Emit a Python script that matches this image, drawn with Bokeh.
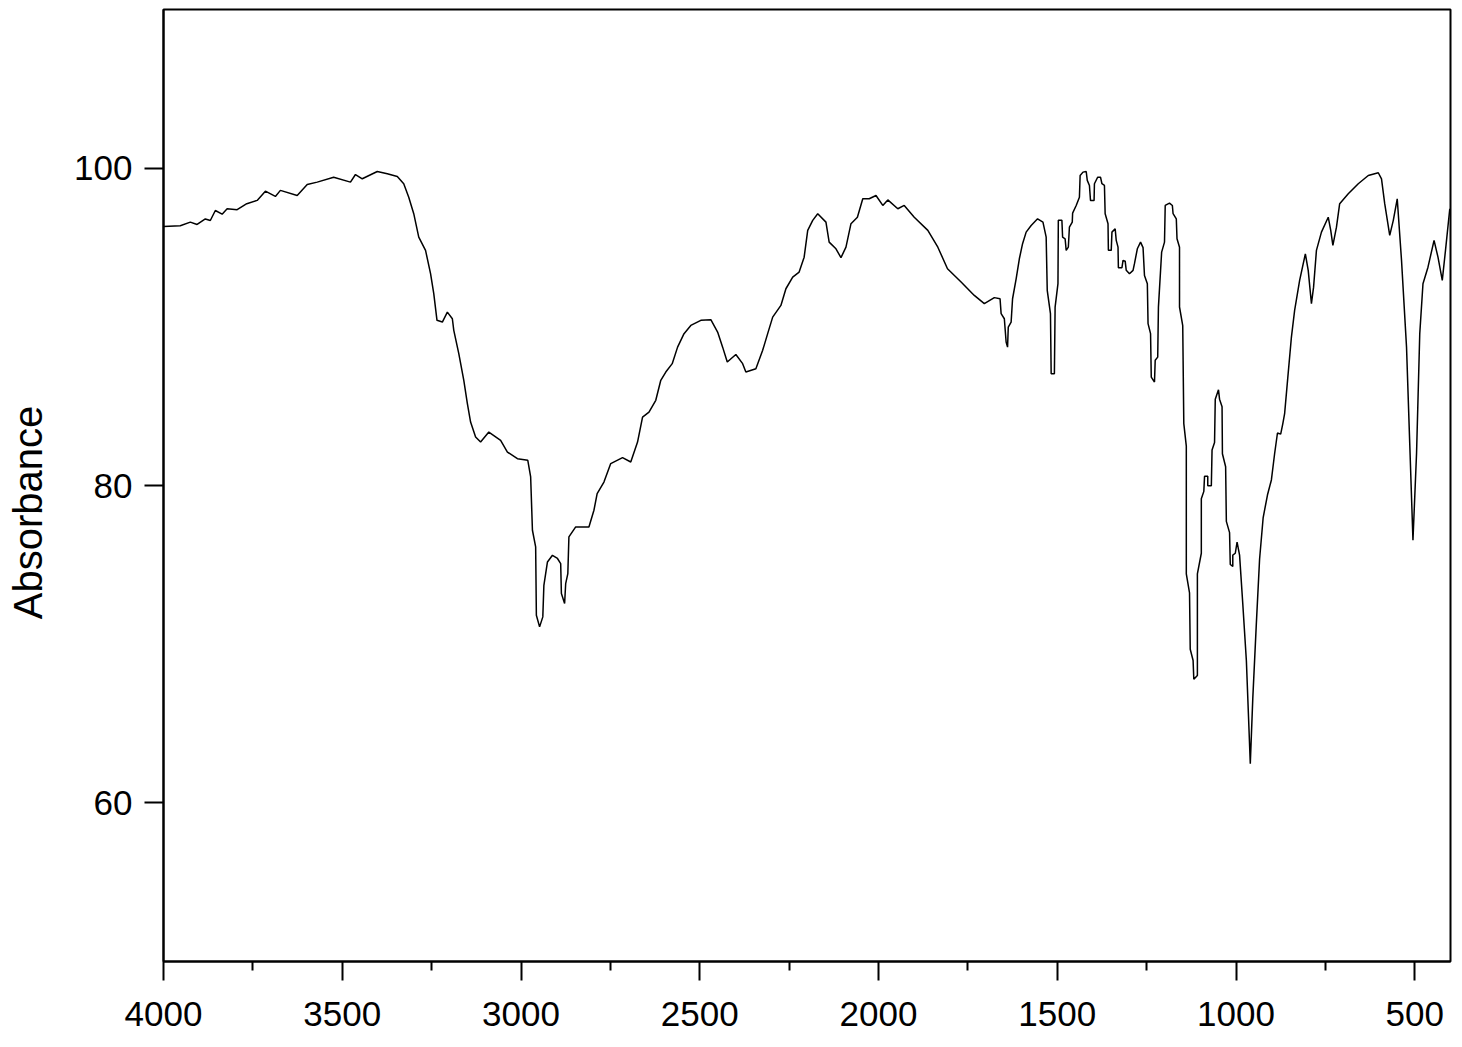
from bokeh.plotting import figure
from bokeh.models import FixedTicker, Range1d, Label
from bokeh.embed import file_html
from bokeh.resources import INLINE
import math

# Wavenumber (cm^-1)
wavenumber = [
    4000, 3953, 3925, 3906, 3883, 3869, 3855, 3836, 3822, 3794, 3767, 3738, 3715, 3687, 3673,
    3626, 3598, 3570, 3524, 3477, 3463, 3444, 3402, 3374, 3346, 3328, 3314, 3300, 3286, 3267,
    3253, 3244, 3235, 3220, 3206, 3192, 3188, 3174, 3160, 3150, 3141, 3127, 3113, 3090, 3057,
    3038, 3010, 2981, 2973, 2968, 2959, 2957, 2948, 2939, 2936, 2926, 2912, 2898, 2889, 2887,
    2878, 2875, 2869, 2866, 2847, 2810, 2796, 2787, 2768, 2749, 2716, 2693, 2674, 2660, 2642,
    2623, 2609, 2595, 2577, 2562, 2544, 2525, 2497, 2469, 2450, 2436, 2423, 2399, 2380, 2371,
    2343, 2324, 2310, 2296, 2273, 2259, 2240, 2222, 2208, 2198, 2184, 2170, 2147, 2138, 2119,
    2105, 2091, 2077, 2059, 2044, 2026, 2007, 1988, 1974, 1946, 1928, 1900, 1862, 1834, 1807,
    1769, 1732, 1704, 1676, 1660, 1657, 1648, 1643, 1639, 1637, 1629, 1625, 1615, 1606, 1597,
    1587, 1573, 1555, 1540, 1531, 1528, 1519, 1517, 1508, 1506, 1498, 1497, 1487, 1485, 1478,
    1475, 1469, 1466, 1458, 1457, 1447, 1438, 1436, 1428, 1419, 1416, 1410, 1407, 1397, 1396,
    1387, 1379, 1375, 1368, 1366, 1358, 1357, 1349, 1347, 1338, 1335, 1330, 1329, 1319, 1316,
    1310, 1307, 1298, 1288, 1284, 1276, 1267, 1260, 1256, 1248, 1246, 1239, 1237, 1228, 1226,
    1219, 1217, 1208, 1200, 1198, 1186, 1178, 1176, 1167, 1165, 1158, 1158, 1149, 1146, 1139,
    1139, 1130, 1128, 1120, 1118, 1108, 1108, 1097, 1097, 1090, 1088, 1079, 1079, 1069, 1067,
    1060, 1058, 1049, 1046, 1039, 1038, 1029, 1027, 1018, 1016, 1009, 1009, 1002, 997, 990,
    981, 971, 965, 960, 953, 943, 934, 924, 912, 901, 892, 884, 875, 869, 864,
    855, 845, 836, 822, 806, 798, 789, 783, 775, 761, 742, 735, 729, 719, 710,
    686, 658, 630, 602, 593, 584, 570, 560, 549, 537, 523, 514, 505, 495, 486,
    477, 463, 446, 435, 423, 414, 402,
]

absorbance = [
    96.33, 96.37, 96.6, 96.45, 96.8, 96.7, 97.33, 97.1, 97.44, 97.38, 97.76, 97.97, 98.55, 98.22, 98.6,
    98.28, 98.97, 99.12, 99.43, 99.12, 99.6, 99.33, 99.79, 99.65, 99.48, 99.02, 98.17, 97.13, 95.65, 94.82,
    93.35, 92.09, 90.41, 90.3, 90.93, 90.51, 89.78, 88.31, 86.63, 85.16, 84.0, 83.06, 82.74, 83.37, 82.85,
    82.11, 81.69, 81.59, 80.54, 77.18, 76.13, 71.82, 71.09, 71.72, 73.71, 75.18, 75.6, 75.4, 75.08, 73.19,
    72.56, 73.82, 74.45, 76.76, 77.39, 77.39, 78.44, 79.49, 80.22, 81.38, 81.76, 81.48, 82.74, 84.31, 84.63,
    85.37, 86.63, 87.15, 87.68, 88.72, 89.57, 90.09, 90.41, 90.45, 89.67, 88.72, 87.78, 88.26, 87.68, 87.15,
    87.36, 88.52, 89.57, 90.61, 91.35, 92.4, 93.13, 93.45, 94.39, 96.08, 96.71, 97.13, 96.6, 95.34, 94.92,
    94.36, 95.02, 96.5, 96.91, 98.07, 98.07, 98.28, 97.65, 98.0, 97.44, 97.65, 96.91, 96.08, 95.02, 93.66,
    92.82, 91.98, 91.46, 91.84, 91.77, 90.83, 90.51, 89.04, 88.72, 89.98, 90.3, 91.77, 93.03, 94.29, 95.24,
    95.97, 96.39, 96.81, 96.6, 95.65, 92.3, 90.83, 87.05, 87.05, 91.24, 92.72, 96.71, 96.71, 95.65, 95.55,
    94.82, 95.02, 96.28, 96.6, 97.17, 97.65, 98.17, 99.54, 99.75, 99.79, 99.23, 98.91, 97.97, 97.97, 99.02,
    99.43, 99.43, 99.02, 98.91, 97.13, 96.5, 94.82, 94.82, 95.97, 96.18, 95.45, 95.02, 93.73, 93.73, 94.19,
    94.14, 93.56, 93.35, 93.56, 93.98, 94.92, 95.34, 94.99, 93.24, 92.72, 90.2, 89.57, 86.83, 86.52, 87.89,
    88.09, 91.24, 94.71, 95.34, 97.65, 97.8, 97.65, 97.13, 96.81, 95.55, 95.02, 91.25, 90.07, 83.9, 82.48,
    74.43, 73.24, 69.68, 68.97, 67.79, 68.03, 74.43, 75.73, 79.16, 79.63, 80.58, 80.58, 79.99, 79.99, 82.24,
    82.71, 85.44, 86.03, 85.44, 84.97, 82.0, 81.18, 77.74, 77.03, 75.02, 74.9, 75.61, 75.73, 76.43, 75.61,
    72.53, 68.97, 65.42, 62.46, 66.6, 71.34, 75.37, 77.98, 79.4, 80.35, 82.0, 83.31, 83.24, 83.9, 84.53,
    86.83, 89.35, 91.04, 92.93, 94.6, 93.56, 91.46, 92.5, 94.82, 95.97, 96.91, 96.08, 95.13, 96.28, 97.76,
    98.39, 99.02, 99.54, 99.71, 99.33, 97.76, 95.76, 96.71, 98.07, 94.19, 88.72, 82.64, 76.55, 82.01, 89.57,
    92.72, 93.76, 95.45, 94.39, 92.93, 94.82, 97.44,
]

x_major_ticks = [4000, 3500, 3000, 2500, 2000, 1500, 1000, 500]
x_minor_ticks = [3750, 3250, 2750, 2250, 1750, 1250, 750]
y_major_ticks = [60, 80, 100]
y_label = "Absorbance"

FONT = "Liberation Sans"

p = figure(
    frame_width=1287, frame_height=952,
    x_range=Range1d(4000, 400), y_range=Range1d(50, 110),
    output_backend="svg", toolbar_location=None,
    min_border_left=163, min_border_right=4, min_border_top=9, min_border_bottom=80,
    background_fill_color="white", border_fill_color="white",
)
p.grid.visible = False
p.outline_line_color = "black"
p.outline_line_width = 2
p.outline_line_alpha = 1

p.line(wavenumber, absorbance, line_color="black", line_width=1.5)

for ax in (p.xaxis[0], p.yaxis[0]):
    ax.axis_line_width = 2
    ax.axis_line_color = "black"
    ax.major_tick_line_width = 2
    ax.minor_tick_line_width = 2
    ax.major_tick_line_color = "black"
    ax.minor_tick_line_color = "black"
    ax.major_tick_in = 0
    ax.major_tick_out = 19
    ax.minor_tick_in = 0
    ax.minor_tick_out = 9
    ax.major_label_text_font = FONT
    ax.major_label_text_font_size = "35px"
    ax.major_label_text_color = "black"

p.xaxis.major_label_standoff = 21
p.yaxis.major_label_standoff = 12

p.xaxis.ticker = FixedTicker(ticks=x_major_ticks, minor_ticks=x_minor_ticks)
p.yaxis.ticker = FixedTicker(ticks=y_major_ticks, minor_ticks=[])

# y-axis title in the left side panel, a little below the frame centre
ylab = Label(
    x=0, y=449, x_units="screen", y_units="screen",
    text=y_label, angle=math.pi / 2,
    text_align="center", text_baseline="middle",
    text_font=FONT, text_font_size="40px", text_color="black",
)
p.add_layout(ylab, "left")

open("out.html", "w").write(file_html(p, INLINE))
